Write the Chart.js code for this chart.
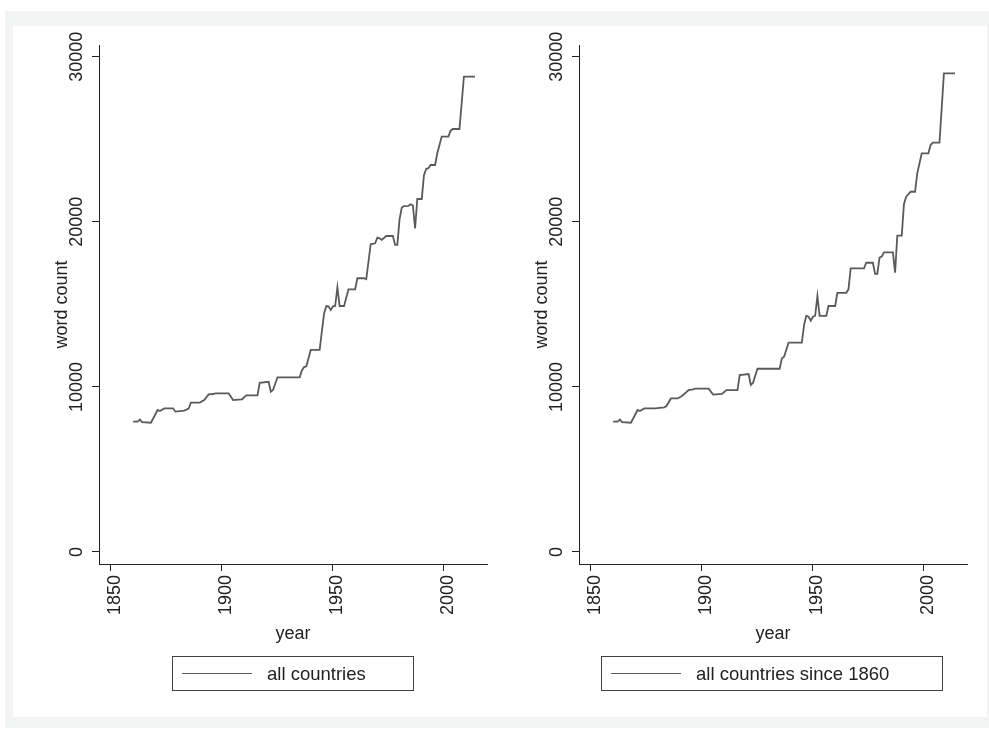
<!DOCTYPE html>
<html>
<head>
<meta charset="utf-8">
<title>word count by year</title>
<script src="https://cdn.jsdelivr.net/npm/chart.js@4.4.1/dist/chart.umd.min.js"></script>
<style>
  body { margin: 0; background: #fff; font-family: "Liberation Sans", Arial, sans-serif; }
  #frame { position: absolute; left: 5px; top: 11px; width: 984px; height: 717px; background: #f2f3f3; }
  #plotbg { position: absolute; left: 13px; top: 26px; width: 974px; height: 691px; background: #fff; }
  canvas { position: absolute; top: 0; }
  .legend { position: absolute; top: 656px; height: 35px; border: 1px solid #404040; box-sizing: border-box; }
  .legend .sample { position: absolute; left: 9px; top: 16px; width: 70px; border-top: 1.5px solid #5a5a5a; }
  .legend span { position: absolute; left: 94px; top: 6px; font-size: 18.5px; color: #222; white-space: nowrap; }
</style>
</head>
<body>
<div id="frame"></div>
<div id="plotbg"></div>
<canvas id="left" width="490" height="729" style="left:0px"></canvas>
<canvas id="right" width="490" height="729" style="left:480px"></canvas>
<div class="legend" style="left:172px; width:242px;"><div class="sample"></div><span>all countries</span></div>
<div class="legend" style="left:601px; width:342px;"><div class="sample"></div><span>all countries since 1860</span></div>
<script>
// data (years where the line changes)
const yearsAll = [1860, 1862, 1863, 1864, 1868, 1871, 1872, 1874, 1878, 1879, 1883, 1885, 1886, 1890,
  1892, 1894, 1896, 1897, 1903, 1905, 1909, 1911, 1916, 1917, 1921, 1922, 1923, 1925, 1935, 1936,
  1937, 1938, 1940, 1944, 1946, 1947, 1948, 1949, 1950, 1951, 1952, 1953, 1955, 1957, 1960, 1961,
  1964, 1965, 1967, 1969, 1970, 1971, 1972, 1974, 1977, 1978, 1979, 1980, 1981, 1982, 1984, 1985,
  1986, 1987, 1988, 1990, 1991, 1992, 1993, 1994, 1996, 1997, 1999, 2002, 2003, 2004, 2007, 2009, 2014];
const countAll = [7900, 7900, 8020, 7870, 7830, 8600, 8540, 8700, 8700, 8500, 8560, 8680, 9050, 9050,
  9200, 9550, 9570, 9610, 9610, 9200, 9250, 9490, 9490, 10250, 10310, 9710, 9810, 10580, 10580, 11000,
  11200, 11250, 12240, 12240, 14450, 14900, 14880, 14660, 14880, 14900, 16030, 14900, 14900, 15910, 15910, 16580,
  16580, 16520, 18640, 18700, 19040, 19000, 18900, 19140, 19140, 18600, 18600, 20150, 20860, 20950, 20960, 21060,
  21000, 19600, 21380, 21380, 22830, 23200, 23250, 23440, 23440, 24150, 25160, 25160, 25520, 25620, 25620, 28790, 28790];

const yearsSince = [1860, 1862, 1863, 1864, 1868, 1871, 1872, 1874, 1879, 1883, 1884, 1886, 1889, 1891,
  1894, 1896, 1897, 1903, 1905, 1909, 1911, 1916, 1917, 1921, 1922, 1923, 1925, 1935, 1936, 1937,
  1939, 1945, 1946, 1947, 1948, 1949, 1950, 1951, 1952, 1953, 1956, 1957, 1960, 1961, 1965, 1966,
  1967, 1973, 1974, 1977, 1978, 1979, 1980, 1981, 1982, 1986, 1987, 1988, 1990, 1991, 1992, 1994,
  1996, 1997, 1999, 2002, 2003, 2004, 2007, 2009, 2014];
const countSince = [7900, 7900, 8020, 7870, 7830, 8600, 8540, 8700, 8700, 8760, 8840, 9300, 9300, 9450,
  9810, 9850, 9890, 9890, 9530, 9570, 9810, 9810, 10720, 10780, 10120, 10250, 11100, 11100, 11730, 11830,
  12680, 12680, 13750, 14310, 14250, 14010, 14250, 14310, 15500, 14300, 14300, 14900, 14900, 15700, 15700, 15910,
  17180, 17180, 17520, 17520, 16840, 16840, 17830, 17900, 18150, 18150, 16920, 19160, 19160, 21080, 21520, 21820,
  21820, 22940, 24150, 24150, 24650, 24790, 24790, 28990, 28990];

const xTicks = [1850, 1900, 1950, 2000];
const yTicks = [0, 10000, 20000, 30000];
const xRange = [1844.6, 2019.4];
const yRange = [-727, 30709];

const fontFam = '"Liberation Sans", Arial, sans-serif';
const inkColor = '#222';
const lineColor = '#5a5a5a';

function makeChart(id, years, counts) {
  const ctx = document.getElementById(id);
  const points = years.map((yr, i) => ({ x: yr, y: counts[i] }));
  return new Chart(ctx, {
    type: 'line',
    data: {
      datasets: [{
        data: points,
        borderColor: lineColor,
        borderWidth: 1.8,
        pointRadius: 0,
        tension: 0,
        fill: false
      }]
    },
    options: {
      responsive: false,
      animation: false,
      devicePixelRatio: 1,
      layout: { padding: { left: 0, top: 45, right: 3, bottom: 75 } },
      plugins: { legend: { display: false }, tooltip: { enabled: false } },
      scales: {
        x: {
          type: 'linear',
          min: xRange[0],
          max: xRange[1],
          afterBuildTicks: (s) => { s.ticks = xTicks.map((v) => ({ value: v })); },
          afterFit: (s) => { s.height = 90; },
          grid: { drawOnChartArea: false, drawTicks: true, tickLength: 7, color: inkColor },
          border: { display: true, color: inkColor, width: 1 },
          ticks: {
            autoSkip: false, minRotation: 90, maxRotation: 90, padding: 4, labelOffset: 4,
            color: inkColor, font: { size: 18, family: fontFam },
            callback: (v) => String(v)
          },
          title: {
            display: true, text: 'year', color: inkColor,
            font: { size: 18, family: fontFam }, padding: { top: 0, bottom: 9 }
          }
        },
        y: {
          type: 'linear',
          min: yRange[0],
          max: yRange[1],
          afterBuildTicks: (s) => { s.ticks = yTicks.map((v) => ({ value: v })); },
          afterFit: (s) => { s.width = 99; },
          grid: { drawOnChartArea: false, drawTicks: true, tickLength: 7, color: inkColor },
          border: { display: true, color: inkColor, width: 1 },
          ticks: {
            autoSkip: false, minRotation: 90, maxRotation: 90, crossAlign: 'center', padding: -10.5,
            color: inkColor, font: { size: 18, family: fontFam },
            callback: (v) => String(v)
          },
          title: {
            display: true, text: 'word count', color: inkColor,
            font: { size: 18, family: fontFam }, padding: { top: 51, bottom: 0 }
          }
        }
      }
    }
  });
}

makeChart('left', yearsAll, countAll);
makeChart('right', yearsSince, countSince);
</script>
</body>
</html>
